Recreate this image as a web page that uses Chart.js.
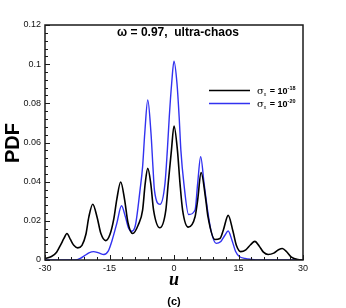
<!DOCTYPE html>
<html>
<head>
<meta charset="utf-8">
<script src="https://cdn.jsdelivr.net/npm/chart.js@4/dist/chart.umd.min.js"></script>
<style>
  html, body { margin: 0; padding: 0; background: #fff; }
  #wrap { width: 346px; height: 308px; position: relative; }
</style>
</head>
<body>
<div id="wrap"><canvas id="pdfChart"></canvas></div>
<script>
// Данные
const blackU = [-30, -28.5, -27.3, -26.3, -25.6, -24.9, -24.1, -23.3, -22.4, -21.4, -20.5, -19.8, -18.9, -17.9, -17.0, -15.9,
    -14.9, -14.0, -13.3, -12.4, -11.5, -10.7, -9.6, -8.3, -7.3, -6.7, -6.1, -5.4, -4.75, -3.3, -1.9, -1.35, -0.6, 0,
    0.8, 1.4, 2.0, 3.3, 4.9, 5.5, 6.3, 7.4, 7.9, 9.5, 10.7, 11.5, 12.6, 13.7, 14.5, 15.5, 16.7, 17.8, 18.8, 19.8,
    20.8, 21.9, 23.2, 24.3, 25.2, 26.2, 27.3, 28.8, 30];
const blackPdf = [0.0008, 0.0018, 0.004, 0.008, 0.011, 0.0135, 0.0105, 0.0075, 0.0062, 0.0075, 0.013, 0.022, 0.0285, 0.022, 0.0135, 0.0099,
    0.013, 0.021, 0.031, 0.0398, 0.031, 0.019, 0.0135, 0.018, 0.0255, 0.039, 0.0468, 0.039, 0.0255, 0.0165, 0.0255, 0.039, 0.056, 0.0684,
    0.056, 0.039, 0.0255, 0.0168, 0.0221, 0.0306, 0.0446, 0.0306, 0.0221, 0.0105, 0.011, 0.0155, 0.0228, 0.0148, 0.0075, 0.0043, 0.0052, 0.0078, 0.0095, 0.0072,
    0.004, 0.0028, 0.0035, 0.0052, 0.0059, 0.0042, 0.0015, 0.0002, 0];

const blueU = [-30, -23, -21.8, -20.8, -19.8, -18.7, -17.5, -16.3, -15.3, -14.4, -13.3, -12.2, -11.3, -10.6, -9.9, -9.0,
    -7.9, -7.3, -6.8, -6.1, -5.35, -4.9, -4.55, -3.25, -2.1, -1.55, -1.1, -0.55, 0, 0.7, 1.2, 1.6, 2.3, 3.4,
    4.9, 5.5, 6.2, 7.0, 7.8, 8.6, 9.8, 10.9, 11.8, 12.6, 13.5, 14.3, 15.2, 16.5, 18, 19.7, 30];
const bluePdf = [0, 0, 0.0008, 0.0022, 0.0036, 0.0043, 0.0036, 0.0028, 0.0045, 0.010, 0.0187, 0.0277, 0.022, 0.0165, 0.0147, 0.0175,
    0.0357, 0.0477, 0.0647, 0.0817, 0.0647, 0.0477, 0.0357, 0.0284, 0.039, 0.056, 0.073, 0.090, 0.1015, 0.090, 0.073, 0.056, 0.039, 0.0232,
    0.0255, 0.039, 0.0528, 0.039, 0.0255, 0.015, 0.0085, 0.0095, 0.0125, 0.0148, 0.010, 0.0045, 0.0018, 0.0008, 0.0003, 0, 0];

const xTicks = [-30, -15, 0, 15, 30];
const yTicks = [0, 0.02, 0.04, 0.06, 0.08, 0.1, 0.12];

function toPoints(xs, ys) {
    return xs.map((x, i) => ({ x: x, y: ys[i] }));
}

// Рамка, внутренние засечки и подписи
const decorPlugin = {
    id: 'decor',
    afterDraw(chart) {
        const ctx = chart.ctx;
        const a = chart.chartArea;
        const xs = chart.scales.x;
        const ys = chart.scales.y;
        ctx.save();
        ctx.strokeStyle = '#1a1a1a';
        ctx.lineWidth = 1.5;
        ctx.strokeRect(a.left, a.top, a.right - a.left, a.bottom - a.top);

        ctx.lineWidth = 1;
        ctx.beginPath();
        for (let v = -30; v <= 30.001; v += 3) {
            const px = Math.round(xs.getPixelForValue(v)) + 0.5;
            const len = (Math.abs(v % 15) < 0.001) ? 5 : 3;
            ctx.moveTo(px, a.bottom);
            ctx.lineTo(px, a.bottom - len);
        }
        for (let i = 0; i <= 30; i++) {
            const v = i * 0.004;
            const py = Math.round(ys.getPixelForValue(v)) + 0.5;
            const len = (i % 5 === 0) ? 5 : 3;
            ctx.moveTo(a.left, py);
            ctx.lineTo(a.left + len, py);
        }
        ctx.stroke();

        // Заголовок внутри графика
        ctx.fillStyle = '#000';
        ctx.textAlign = 'center';
        ctx.textBaseline = 'middle';
        ctx.font = 'bold 12px "Liberation Sans", Arial, sans-serif';
        ctx.fillText('ω = 0.97,  ultra-chaos', 178, 33);

        // Легенда
        const items = [
            { color: '#000000', exp: '-18', y: 90.5 },
            { color: '#3232f0', exp: '-20', y: 103.5 }
        ];
        items.forEach(it => {
            ctx.strokeStyle = it.color;
            ctx.lineWidth = 1.6;
            ctx.beginPath();
            ctx.moveTo(209, it.y);
            ctx.lineTo(250, it.y);
            ctx.stroke();
            let x = 257;
            ctx.textAlign = 'left';
            ctx.textBaseline = 'alphabetic';
            ctx.fillStyle = '#000';
            ctx.font = '10px "DejaVu Serif", serif';
            ctx.fillText('σ', x, it.y + 3);
            x += ctx.measureText('σ').width;
            ctx.font = '5px "Liberation Sans", Arial, sans-serif';
            ctx.fillText('x', x, it.y + 5);
            x += ctx.measureText('x').width + 1;
            ctx.font = 'bold 9px "Liberation Sans", Arial, sans-serif';
            ctx.fillText(' = 10', x, it.y + 3.5);
            x += ctx.measureText(' = 10').width;
            ctx.font = 'bold 5.5px "Liberation Sans", Arial, sans-serif';
            ctx.fillText(it.exp, x, it.y - 0.5);
        });

        // Подписи осей
        ctx.fillStyle = '#000';
        ctx.textAlign = 'center';
        ctx.textBaseline = 'alphabetic';
        ctx.font = 'italic bold 18px "Liberation Serif", "Times New Roman", serif';
        ctx.fillText('u', 174, 285);
        ctx.font = 'bold 11px "Liberation Sans", Arial, sans-serif';
        ctx.textBaseline = 'middle';
        ctx.fillText('(c)', 174, 302);

        ctx.translate(13, 143);
        ctx.rotate(-Math.PI / 2);
        ctx.font = 'bold 20px "Liberation Sans", Arial, sans-serif';
        ctx.fillText('PDF', 0, 0);
        ctx.restore();
    }
};

function initChart() {
    const ctx = document.getElementById('pdfChart').getContext('2d');
    return new Chart(ctx, {
        type: 'line',
        data: {
            datasets: [{
                label: 'sigma 1e-18',
                data: toPoints(blackU, blackPdf),
                borderColor: '#000000',
                borderWidth: 1.6,
                pointRadius: 0,
                cubicInterpolationMode: 'monotone',
                fill: false
            }, {
                label: 'sigma 1e-20',
                data: toPoints(blueU, bluePdf),
                borderColor: '#3232f0',
                borderWidth: 1.4,
                pointRadius: 0,
                cubicInterpolationMode: 'monotone',
                fill: false
            }]
        },
        options: {
            responsive: true,
            maintainAspectRatio: false,
            animation: false,
            events: [],
            layout: { padding: { left: 0, right: 43, top: 25, bottom: 0 } },
            plugins: {
                legend: { display: false },
                tooltip: { enabled: false }
            },
            scales: {
                x: {
                    type: 'linear',
                    min: -30,
                    max: 30,
                    afterFit: s => { s.height = 48; },
                    afterBuildTicks: s => { s.ticks = xTicks.map(v => ({ value: v })); },
                    grid: { display: false, drawTicks: false },
                    border: { display: false },
                    ticks: {
                        padding: 3,
                        color: '#111',
                        font: { family: '"Liberation Sans", Arial, sans-serif', size: 9 },
                        callback: v => String(v)
                    }
                },
                y: {
                    type: 'linear',
                    min: 0,
                    max: 0.12,
                    afterFit: s => { s.width = 45; },
                    afterBuildTicks: s => { s.ticks = yTicks.map(v => ({ value: v })); },
                    grid: { display: false, drawTicks: false },
                    border: { display: false },
                    ticks: {
                        padding: 4,
                        color: '#111',
                        font: { family: '"Liberation Sans", Arial, sans-serif', size: 9 },
                        callback: v => String(+v.toFixed(2))
                    }
                }
            }
        },
        plugins: [decorPlugin]
    });
}

document.addEventListener('DOMContentLoaded', initChart);
</script>
</body>
</html>
